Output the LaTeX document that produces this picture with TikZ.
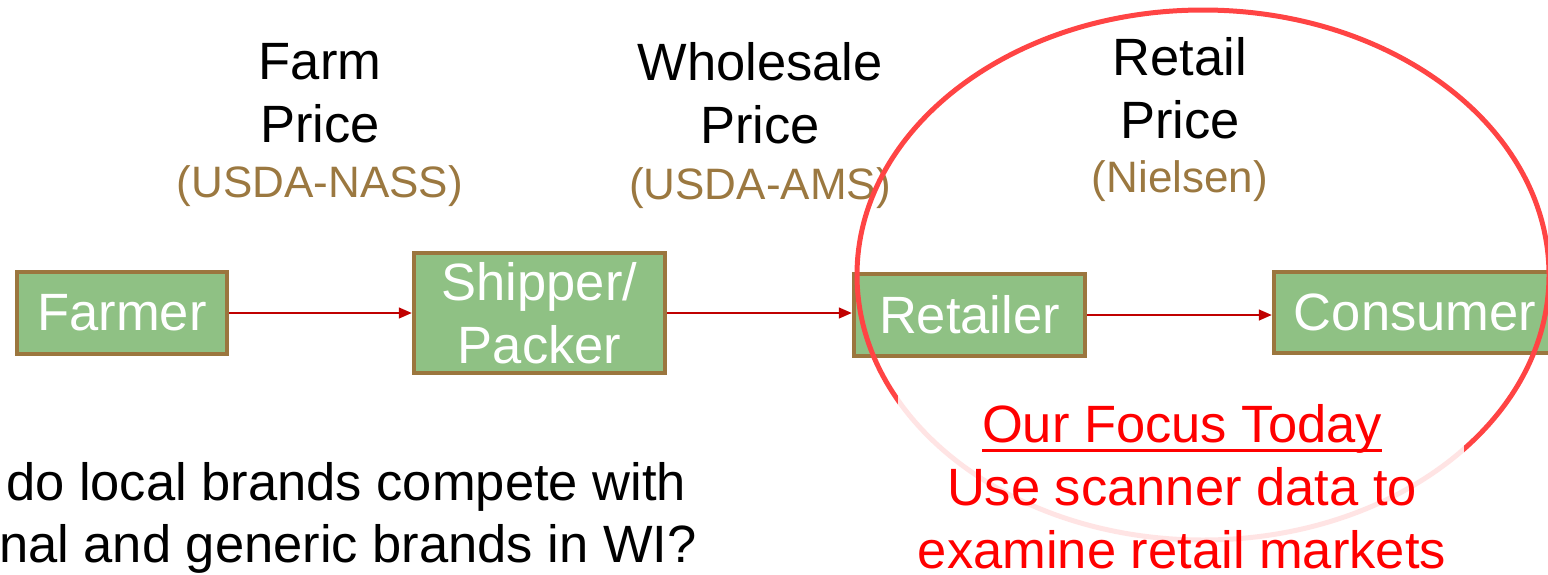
\documentclass[tikz,border=0pt]{standalone}
\usepackage{fontspec}
\setmainfont{Liberation Sans}
\usetikzlibrary{arrows.meta}
\definecolor{boxgreen}{RGB}{143,193,132}
\definecolor{boxbrown}{RGB}{155,118,62}
\definecolor{srcbrown}{RGB}{155,120,64}
\definecolor{arrred}{RGB}{192,0,0}
\definecolor{ringred}{RGB}{255,68,68}
\definecolor{focusred}{RGB}{255,0,0}
\newcommand\bigfnt{\fontsize{52.5}{63}\selectfont}
\newcommand\srcfnt{\fontsize{44}{53}\selectfont}
\newlength\myulw
\newcommand\myul[1]{\settowidth\myulw{#1}\rlap{\rule[-10pt]{\myulw}{3pt}}#1}
\begin{document}
\begin{tikzpicture}[x=1pt,y=-1pt,
  stage/.style={draw=boxbrown, line width=4.5pt, fill=boxgreen, text=white,
    font=\bigfnt, align=center, inner sep=0pt},
  head/.style={font=\bigfnt, align=center, anchor=base, inner sep=0pt},
  src/.style={font=\srcfnt, text=srcbrown, anchor=base, inner sep=0pt},
  flow/.style={draw=arrred, line width=1.5pt, -{Triangle[length=13pt,width=11pt]}},
  ring/.style={draw=ringred, line width=5pt},
  focus/.style={font=\bigfnt, text=focusred, align=center, anchor=base, inner sep=0pt},
  question/.style={font=\bigfnt, anchor=base west, inner sep=0pt}]
\useasboundingbox (0,0) rectangle (1548,574);
\clip (0,0) rectangle (1548,574);
% stages
\node[stage, minimum width=210pt, minimum height=82pt] (farmer) at (122,313) {Farmer};
\node[stage, minimum width=251pt, minimum height=120pt] (shipper) at (539.5,313) {Shipper/\\Packer};
\node[stage, minimum width=231pt, minimum height=82pt] (retailer) at (969.5,315) {Retailer};
\node[stage, minimum width=282pt, minimum height=81pt] (consumer) at (1415,312.5) {Consumer};
% headers (base = last line)
\node[head] (farmprice) at (320,142) {Farm\\Price};
\node[src] (nass) at (320,197) {(USDA-NASS)};
\node[head] (wholeprice) at (760,143) {Wholesale\\Price};
\node[src] (ams) at (760,199) {(USDA-AMS)};
\node[head] (retailprice) at (1180,138) {Retail\\Price};
\node[src] (nielsen) at (1180,192) {(Nielsen)};
% flows
\draw[flow] (farmer.east) -- (farmer.east -| shipper.west);
\draw[flow] (shipper.east) -- (shipper.east -| retailer.west);
\draw[flow] (retailer.east) -- (retailer.east -| consumer.west);
% focus ring
\draw[ring] (1203,275) ellipse [x radius=346, y radius=265];
\fill[white, opacity=0.86] (898,390) rectangle (1464,574);
\node[focus] (focus) at (1182,568) {\myul{Our Focus Today}\\Use scanner data to\\examine retail markets};
% question
\node[question] (q1) at (6,500) {do local brands compete with};
\node[question] (q2) at (-1,562) {nal and generic brands in WI?};
\end{tikzpicture}
\end{document}
